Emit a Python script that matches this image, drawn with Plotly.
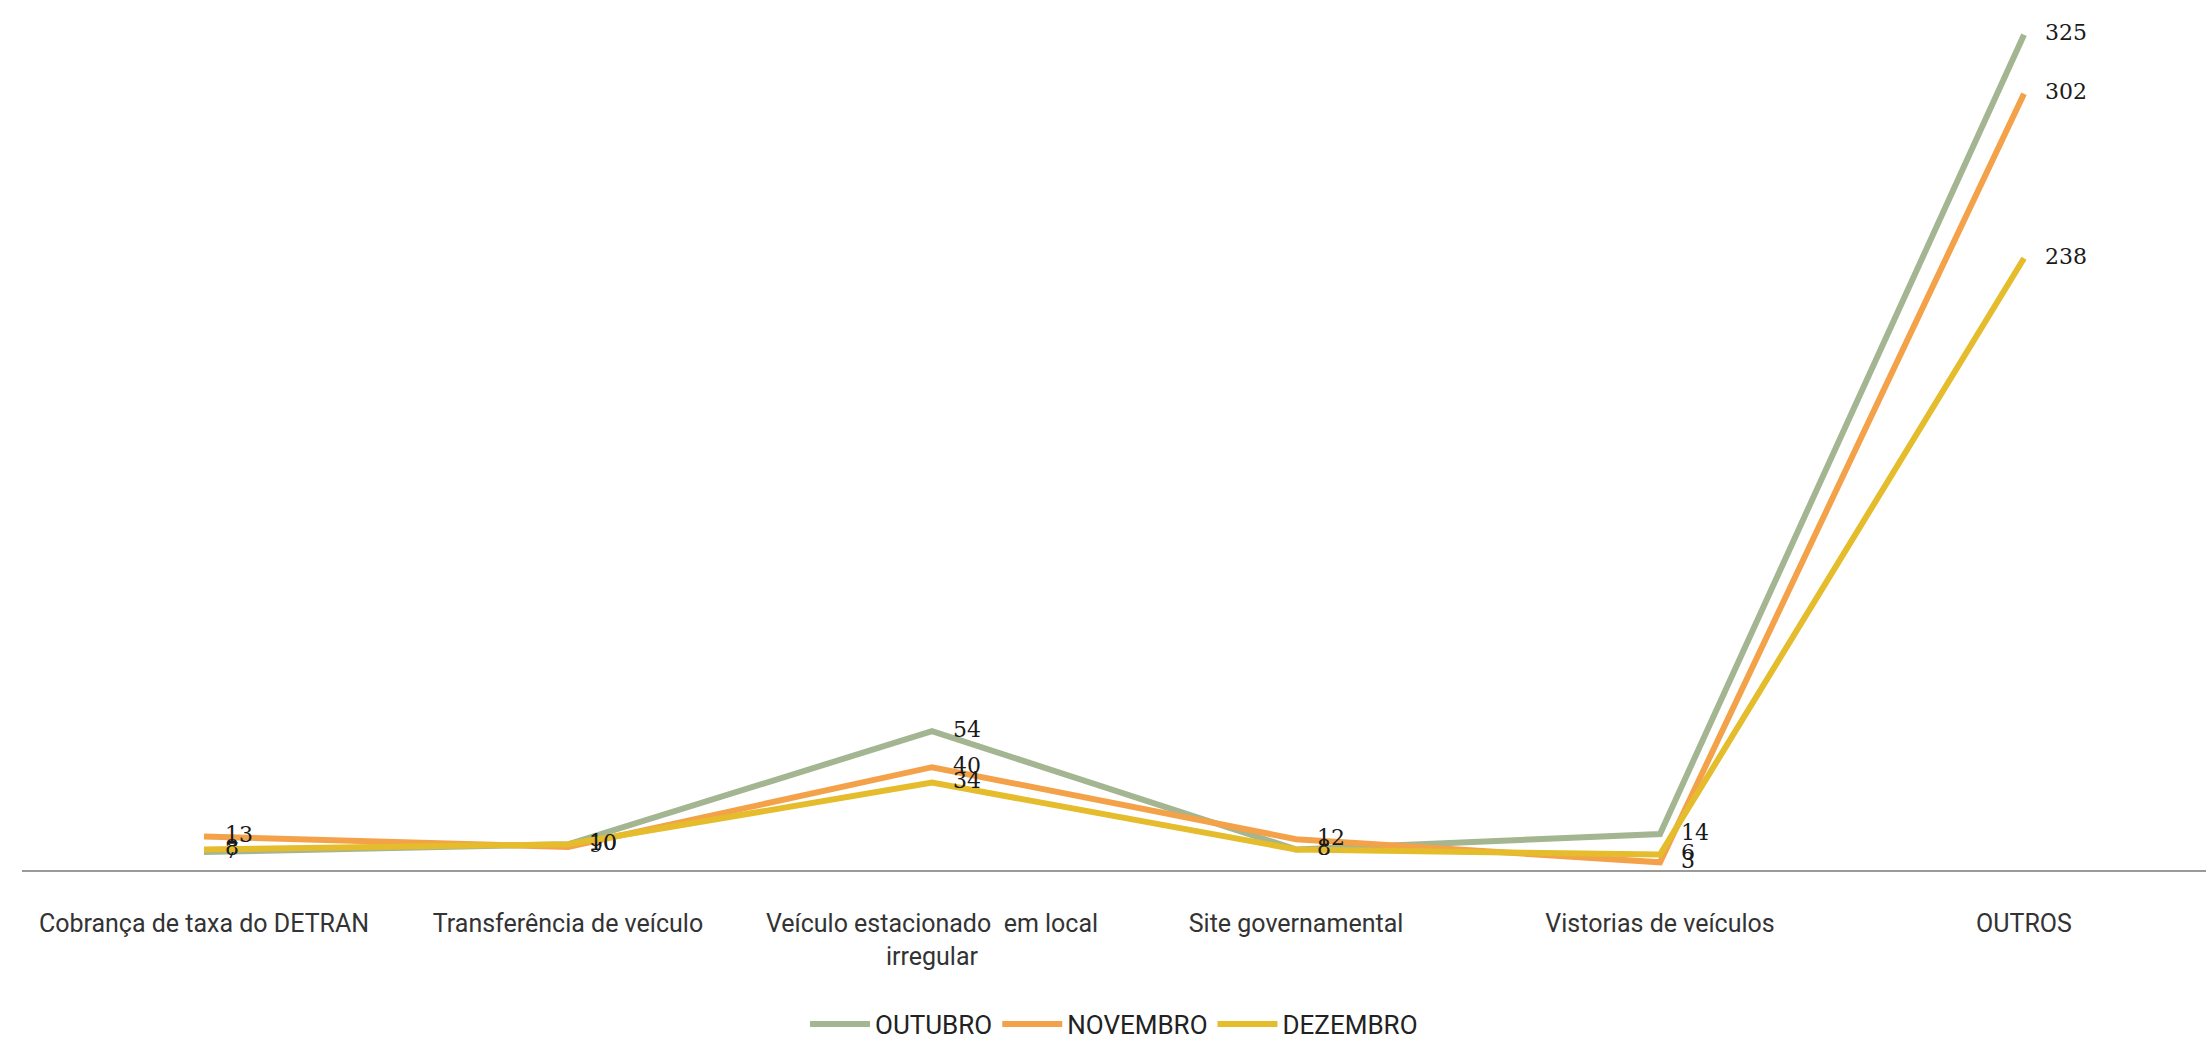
import plotly.graph_objects as go

categories = ["Cobrança de taxa do DETRAN", "Transferência de veículo",
              "Veículo estacionado  em local<br>irregular", "Site governamental",
              "Vistorias de veículos", "OUTROS"]
outubro = [7, 10, 54, 8, 14, 325]
novembro = [13, 9, 40, 12, 3, 302]
dezembro = [8, 10, 34, 8, 6, 238]

series = [("OUTUBRO", outubro, "#A3B591"),
          ("NOVEMBRO", novembro, "#F4A24A"),
          ("DEZEMBRO", dezembro, "#E4BC2C")]

fig = go.Figure()
for name, vals, color in series:
    fig.add_trace(go.Scatter(
        x=categories, y=vals, name=name, mode="lines+text",
        line=dict(color=color, width=6),
        text=[str(v) for v in vals], texttemplate="   %{text}",
        textposition="middle right",
        textfont=dict(family="DejaVu Serif, serif", size=22, color="#1a1a1a"),
        cliponaxis=False,
    ))

fig.update_layout(
    width=2209, height=1048,
    margin=dict(l=22, r=3, t=0, b=172),
    paper_bgcolor="white", plot_bgcolor="white",
    showlegend=True,
    legend=dict(orientation="h", x=0.5, xanchor="center", y=-0.15, yanchor="top",
                font=dict(family="Roboto, sans-serif", size=26, color="#222"),
                itemwidth=60, traceorder="normal"),
    xaxis=dict(type="category", range=[-0.5, 5.5], showgrid=False, showline=True,
               linecolor="#9a9a9a", linewidth=2, ticks="", ticklabelstandoff=30,
               tickfont=dict(family="Roboto, sans-serif", size=25, color="#333")),
    yaxis=dict(range=[0, 338.5], showgrid=False, showticklabels=False, zeroline=False,
               showline=False),
)

fig.write_html("out.html")
